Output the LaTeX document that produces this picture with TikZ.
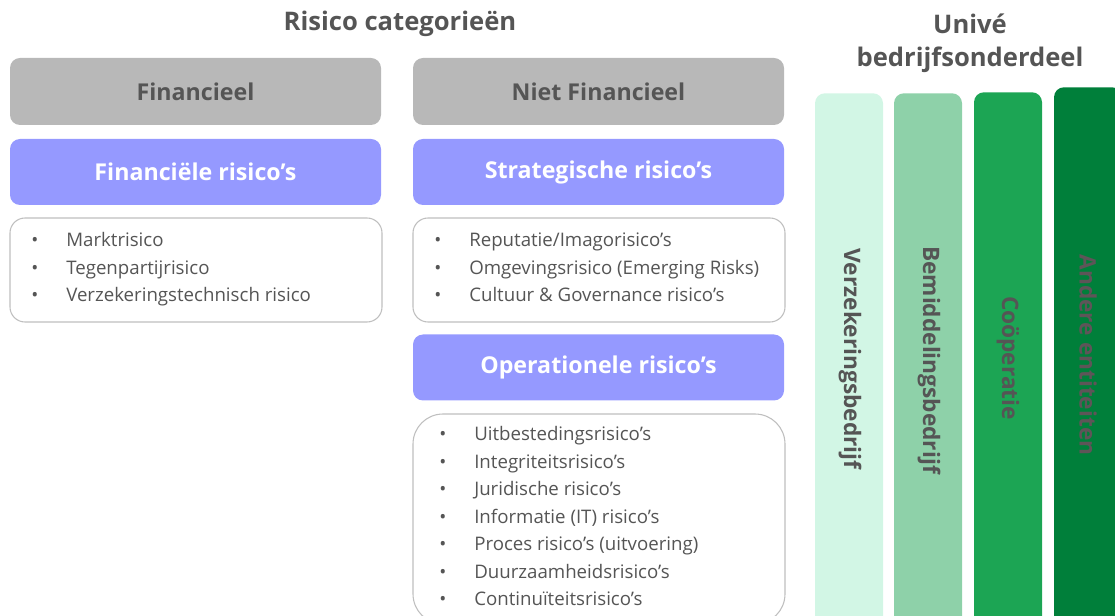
\documentclass[tikz,border=0pt]{standalone}
\usepackage{fontspec}
\setmainfont{Open Sans}
\def\pxu{0.75pt}
\definecolor{hdgray}{HTML}{B8B8B8}
\definecolor{txtgray}{HTML}{555555}
\definecolor{periw}{HTML}{9599FF}
\definecolor{brd}{HTML}{BFBFBF}
\definecolor{gA}{HTML}{D2F6E5}
\definecolor{gB}{HTML}{8ED1A9}
\definecolor{gC}{HTML}{1CA554}
\definecolor{gD}{HTML}{007F3A}
\definecolor{mauve}{HTML}{5E5558}
\tikzset{
  catbox/.style={fill=hdgray, rounded corners=10*\pxu, minimum width=371*\pxu, minimum height=67*\pxu, inner sep=0pt, text=txtgray, font=\fontsize{17.4}{20}\selectfont\bfseries},
  riskbox/.style={fill=periw, rounded corners=10*\pxu, minimum width=371*\pxu, minimum height=66*\pxu, inner sep=0pt, text=white, font=\fontsize{17.4}{20}\selectfont\bfseries},
  listbox/.style={draw=brd, line width=0.8pt, fill=white, rounded corners=15*\pxu, minimum width=372*\pxu, inner sep=0pt},
  item/.style={anchor=base west, inner sep=0pt, text=txtgray, font=\fontsize{14}{16}\selectfont},
  bul/.style={anchor=base, inner sep=0pt, text=txtgray, font=\fontsize{14}{16}\selectfont},
  col/.style={rounded corners=10*\pxu, minimum width=68*\pxu, inner sep=0pt, anchor=north},
  coltext/.style={rotate=-90, inner sep=0pt, font=\fontsize{17}{18}\selectfont\bfseries},
  title/.style={text=txtgray, inner sep=0pt, font=\fontsize{19.2}{22}\selectfont\bfseries}
}
\begin{document}
\begin{tikzpicture}[x=0.75pt,y=-0.75pt]
\useasboundingbox (0,0) rectangle (1115,616);
\clip (0,0) rectangle (1115,616);
% titles
\node[title] (t1) at (400,24) {Risico categorieën};
\node[title] (t2) at (970,24) {Univé};
\node[title] (t3) at (970,60) {bedrijfsonderdeel};
% category boxes
\node[catbox] (fin) at (195.5,91.5) {Financieel};
\node[catbox] (nfin) at (598.5,91.5) {Niet Financieel};
\node[riskbox] (finr) at (195.5,172) {Financiële risico’s};
\node[riskbox] (strat) at (598.5,172) {Strategische risico’s};
\node[listbox, minimum height=104*\pxu] (l1) at (196,270) {};
\node[listbox, minimum height=104*\pxu] (l2) at (599,270) {};
\node[riskbox] (oper) at (598.5,367.5) {Operationele risico’s};
\node[listbox, minimum height=210*\pxu, rounded corners=30*\pxu] (l3) at (599,519) {};
% list 1
\foreach \t [count=\i] in {Marktrisico, Tegenpartijrisico, Verzekeringstechnisch risico}{
  \node[bul] (b1\i) at (35,{241+6+(\i-1)*27.5}) {•};
  \node[item] (i1\i) at (66,{241+6+(\i-1)*27.5}) {\t};
}
% list 2
\foreach \t [count=\i] in {Reputatie/Imagorisico’s, Omgevingsrisico (Emerging Risks), Cultuur \& Governance risico’s}{
  \node[bul] (b2\i) at (438,{241+6+(\i-1)*27.5}) {•};
  \node[item] (i2\i) at (469,{241+6+(\i-1)*27.5}) {\t};
}
% list 3
\foreach \t [count=\i] in {Uitbestedingsrisico’s, Integriteitsrisico’s, Juridische risico’s, Informatie (IT) risico’s, Proces risico’s (uitvoering), Duurzaamheidsrisico’s, Continuïteitsrisico’s}{
  \node[bul] (b3\i) at (443,{435+6+(\i-1)*27.5}) {•};
  \node[item] (i3\i) at (474,{435+6+(\i-1)*27.5}) {\t};
}
% columns
\node[col, fill=gA, minimum height=560*\pxu] (c1) at (849,93) {};
\node[col, fill=gB, minimum height=560*\pxu] (c2) at (928,93) {};
\node[col, fill=gC, minimum height=560*\pxu] (c3) at (1008,92) {};
\node[col, fill=gD, minimum height=570*\pxu] (c4) at (1088,87) {};
\node[coltext, text=txtgray] (ct1) at (850,359) {Verzekeringsbedrijf};
\node[coltext, text=txtgray] (ct2) at (929,360) {Bemiddelingsbedrijf};
\node[coltext, text=txtgray] (ct3) at (1008,358) {Coöperatie};
\node[coltext, text=mauve] (ct4) at (1088,355) {Andere entiteiten};
\end{tikzpicture}
\end{document}
